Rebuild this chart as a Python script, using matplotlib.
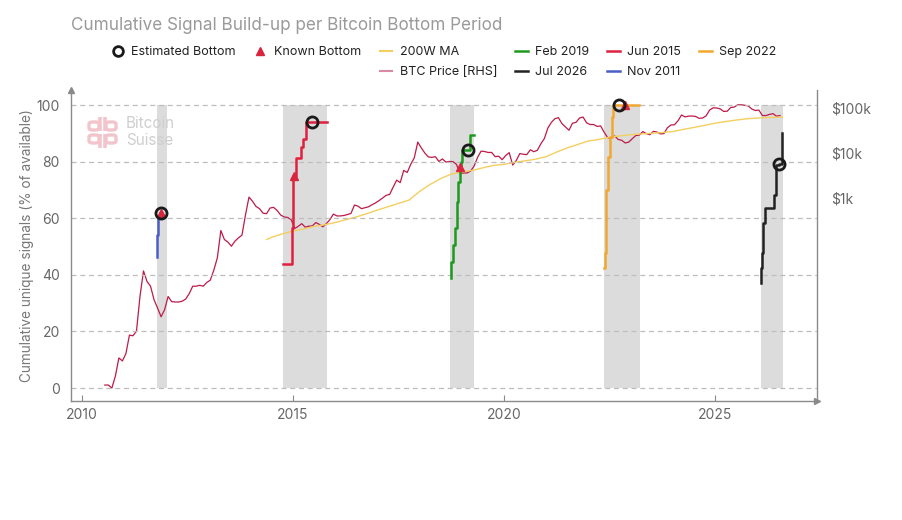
import numpy as np
import matplotlib
matplotlib.use("Agg")
import matplotlib.pyplot as plt
from matplotlib.lines import Line2D
from matplotlib.patches import FancyBboxPatch
from matplotlib.ticker import NullLocator

plt.rcParams['font.family'] = ['Inter', 'DejaVu Sans']

# ---------------- data ----------------
# BTC monthly price (mid-month, USD), Jul 2010 -> Jul 2026
btc_price = [
    0.07, 0.07, 0.06, 0.11, 0.28, 0.24,                                            # 2010
    0.35, 0.90, 0.87, 1.10, 6.5, 24, 14, 11, 5.5, 3.6, 2.3, 3.3,                   # 2011
    6.5, 5.0, 4.9, 4.9, 5.1, 5.7, 7.5, 11, 11, 11.5, 11, 13.3,                     # 2012
    15, 25, 47, 190, 120, 105, 85, 110, 130, 150, 420, 1050,                       # 2013
    850, 650, 580, 460, 450, 600, 620, 530, 420, 380, 370, 330,                    # 2014
    210, 235, 270, 225, 237, 240, 285, 260, 230, 270, 330, 440,                    # 2015
    400, 400, 410, 430, 455, 700, 660, 580, 610, 640, 710, 780,                    # 2016
    880, 1000, 1150, 1200, 1750, 2500, 2200, 4100, 3700, 5600, 7800, 17500,        # 2017
    13000, 10000, 8200, 8000, 8300, 6500, 7400, 6300, 6500, 6450, 5600, 3500,      # 2018
    3600, 3600, 3950, 5100, 8000, 11000, 10800, 10300, 10300, 8300, 8500, 7100,    # 2019
    8800, 10200, 5400, 6800, 9700, 9400, 9200, 11800, 10700, 11500, 16000, 21000,  # 2020
    36000, 48000, 58000, 61000, 45000, 38000, 32000, 46000, 48000, 60000, 63000, 47000,  # 2021
    43000, 43000, 39000, 40000, 29000, 22000, 21000, 24000, 20000, 19200, 16700, 17500,  # 2022
    20800, 24500, 25000, 30000, 27000, 25500, 30300, 29300, 26600, 27000, 36500, 42000,  # 2023
    42500, 52000, 70000, 63500, 66000, 66500, 65000, 59000, 60000, 67000, 90000, 101000, # 2024
    100000, 96000, 84000, 85000, 103000, 105000, 118000, 118000, 115000, 111000, 95000, 88000,  # 2025
    90000, 68000, 68000, 72000, 75000, 66000, 68000,                               # 2026
]
btc_dates = 2010 + (6.5 + np.arange(len(btc_price))) / 12

# 200-week moving average (USD)
ma_dates = [2014.38, 2014.5, 2014.75, 2015.0, 2015.25, 2015.5, 2015.75, 2016.0, 2016.25,
            2016.5, 2016.75, 2017.0, 2017.25, 2017.5, 2017.75, 2018.0, 2018.25, 2018.5,
            2018.75, 2019.0, 2019.25, 2019.5, 2019.75, 2020.0, 2020.25, 2020.5, 2020.75,
            2021.0, 2021.25, 2021.5, 2021.75, 2022.0, 2022.25, 2022.5, 2022.75, 2023.0,
            2023.25, 2023.5, 2023.75, 2024.0, 2024.25, 2024.5, 2024.75, 2025.0, 2025.25,
            2025.5, 2025.75, 2026.0, 2026.25, 2026.6]
ma_values = [120, 135, 160, 185, 205, 235, 255, 285, 330, 380, 450, 540, 640, 760, 900,
             1400, 2000, 2700, 3400, 3800, 4100, 4700, 5300, 5600, 6200, 6700, 7300,
             8300, 10500, 13000, 15500, 18500, 20000, 22500, 24000, 25500, 26500, 27500,
             28500, 30000, 33500, 37000, 41000, 46000, 50000, 54000, 57500, 60000, 61500, 63000]

# cumulative unique signals (% of available) per bottom period
nov2011_t = [2011.78, 2011.79, 2011.81, 2011.87]
nov2011_v = [46.2, 54.0, 60.5, 61.7]
jun2015_t = [2014.77, 2014.97, 2015.00, 2015.07, 2015.18, 2015.24, 2015.31, 2015.81]
jun2015_v = [43.8, 56.5, 75.0, 81.4, 85.0, 88.0, 94.0, 94.0]
feb2019_t = [2018.74, 2018.745, 2018.80, 2018.84, 2018.88, 2018.92, 2018.96, 2018.99, 2019.01, 2019.19, 2019.30]
feb2019_v = [39.0, 44.6, 50.5, 56.5, 65.8, 72.9, 78.2, 80.0, 84.1, 89.4, 89.4]
sep2022_t = [2022.37, 2022.39, 2022.43, 2022.47, 2022.51, 2022.55, 2022.59, 2023.21]
sep2022_v = [42.3, 47.6, 70.0, 81.7, 88.8, 95.9, 100.0, 100.0]
jul2026_t = [2026.09, 2026.095, 2026.12, 2026.14, 2026.18, 2026.40, 2026.44, 2026.53, 2026.585]
jul2026_v = [37.2, 42.3, 47.6, 58.2, 63.5, 68.2, 78.8, 79.2, 90.0]

# shaded bottom windows
periods = ['Nov 2011', 'Jun 2015', 'Feb 2019', 'Sep 2022', 'Jul 2026']
window_start = [2011.78, 2014.76, 2018.72, 2022.37, 2026.09]
window_end = [2012.01, 2015.81, 2019.29, 2023.22, 2026.61]

est_t = [2011.87, 2015.44, 2019.14, 2022.73, 2026.52]
est_v = [61.7, 94.0, 84.1, 100.0, 79.2]
known_t = [2011.87, 2015.02, 2018.96, 2022.88]
known_v = [61.7, 75.0, 78.2, 100.0]

# ---------------- figure ----------------
GREY = '#8a8a8a'
W, H = 902, 520
fig = plt.figure(figsize=(W / 100, H / 100), dpi=100)
ax = fig.add_axes([0.0787, 0.2288, 0.8271, 0.5981])
axp = ax.twinx()
ax.set_zorder(axp.get_zorder() + 1)
ax.patch.set_visible(False)

ylo, yhi = -4.6, 105.3
ax.set_xlim(2009.74, 2027.42)
ax.set_ylim(ylo, yhi)
axp.set_yscale('log')
axp.set_ylim(10 ** -1.51, 10 ** 5.4)

for s, e in zip(window_start, window_end):
    axp.axvspan(s, e, ymin=(0 - ylo) / (yhi - ylo), ymax=(100 - ylo) / (yhi - ylo),
                color='#dcdcdc', lw=0, zorder=0)

price_color = '#be1a48'
ma_color = '#f3cf5f'
axp.plot(btc_dates, btc_price, color=price_color, lw=0.9, zorder=2)
axp.plot(ma_dates, ma_values, color=ma_color, lw=1.0, zorder=3)

ax.set_yticks(np.arange(0, 101, 20))
ax.yaxis.grid(True, ls=(0, (4, 3)), color='#bdbdbd', lw=0.9)
ax.set_axisbelow(True)

colors = {'Nov 2011': '#4a5fc6', 'Jun 2015': '#e0203f', 'Feb 2019': '#1d9a1d',
          'Sep 2022': '#f2a72e', 'Jul 2026': '#222222'}
series = {'Nov 2011': (nov2011_t, nov2011_v), 'Jun 2015': (jun2015_t, jun2015_v),
          'Feb 2019': (feb2019_t, feb2019_v), 'Sep 2022': (sep2022_t, sep2022_v),
          'Jul 2026': (jul2026_t, jul2026_v)}
for name in periods:
    t, v = series[name]
    ax.plot(t, v, drawstyle='steps-post', color=colors[name], lw=1.8, zorder=4)

ax.plot(known_t, known_v, ls='none', marker='^', ms=6, color='#d7263d', zorder=5)
ax.plot(est_t, est_v, ls='none', marker='o', ms=8, mfc='none', mec='#1a1a1a', mew=2, zorder=6)

# axes styling
for sp in ['top', 'right']:
    ax.spines[sp].set_visible(False)
for sp in ['top', 'left', 'bottom']:
    axp.spines[sp].set_visible(False)
for sp in [ax.spines['left'], ax.spines['bottom'], axp.spines['right']]:
    sp.set_color(GREY)
    sp.set_linewidth(1)
ax.plot([0], [1], marker='^', ms=4, color=GREY, transform=ax.transAxes, clip_on=False)
ax.plot([1], [0], marker='>', ms=4, color=GREY, transform=ax.transAxes, clip_on=False)

ax.set_xticks([2010, 2015, 2020, 2025])
ax.tick_params(axis='x', direction='in', length=4, color=GREY, labelcolor='#666666',
               labelsize=10, pad=5)
ax.tick_params(axis='y', length=0, labelcolor='#666666', labelsize=10, pad=8)
axp.set_yticks([1e3, 1e4, 1e5])
axp.set_yticklabels(['$1k', '$10k', '$100k'])
axp.yaxis.set_minor_locator(NullLocator())
axp.tick_params(axis='y', length=0, labelcolor='#666666', labelsize=10, pad=10)
ax.set_ylabel('Cumulative unique signals (% of available)', color='#777777',
              fontsize=9.8, labelpad=2)

# watermark: Bitcoin Suisse logo drawn from simple shapes (pixel coords from top-left)
PINK = '#f2c4cc'


def box(x0, y0, x1, y1):
    fig.add_artist(FancyBboxPatch((x0 / W, 1 - y1 / H), (x1 - x0) / W, (y1 - y0) / H,
                                  boxstyle='round,pad=0,rounding_size=0.004',
                                  transform=fig.transFigure, fc='none', ec=PINK, lw=2.4))


def stem(x, y0, y1):
    fig.add_artist(Line2D([x / W, x / W], [1 - y0 / H, 1 - y1 / H], transform=fig.transFigure,
                          color=PINK, lw=2.6, solid_capstyle='butt'))


box(89, 122, 99, 130)
stem(100, 117, 131)
box(106, 122, 116, 130)
stem(105, 117, 131)
box(89, 135, 99, 143)
stem(100, 134, 148)
box(106, 135, 116, 143)
stem(105, 134, 148)
fig.text(126 / W, 1 - 124 / H, 'Bitcoin', color='#cfcfcf', fontsize=11, va='center')
fig.text(126 / W, 1 - 141 / H, 'Suisse', color='#cfcfcf', fontsize=11, va='center')

# title
fig.text(71 / W, 1 - 25 / H, 'Cumulative Signal Build-up per Bitcoin Bottom Period',
         color='#9a9a9a', fontsize=12.3, va='center')

# legend (column-major, 6 columns x 2 rows)
blank = Line2D([], [], alpha=0)
est_h = Line2D([], [], ls='none', marker='o', ms=7, mfc='none', mec='#1a1a1a', mew=2)
known_h = Line2D([], [], ls='none', marker='^', ms=6, color='#d7263d')
ma_h = Line2D([], [], color=ma_color, lw=1.5)
price_h = Line2D([], [], color='#d88aa0', lw=1.5)
line_h = {k: Line2D([], [], color=c, lw=1.8) for k, c in colors.items()}
handles = [est_h, blank, known_h, blank, ma_h, price_h,
           line_h['Feb 2019'], line_h['Jul 2026'], line_h['Jun 2015'], line_h['Nov 2011'],
           line_h['Sep 2022'], blank]
labels = ['Estimated Bottom', '', 'Known Bottom', '', '200W MA', 'BTC Price [RHS]',
          'Feb 2019', 'Jul 2026', 'Jun 2015', 'Nov 2011', 'Sep 2022', '']
fig.legend(handles, labels, ncol=6, loc='upper center', bbox_to_anchor=(444 / W, 1 - 40 / H),
           frameon=False, fontsize=9, handlelength=1.0, handletextpad=0.6,
           columnspacing=1.45, labelspacing=0.62, borderpad=0, labelcolor='#222222')

fig.savefig('out.png', dpi=100)
